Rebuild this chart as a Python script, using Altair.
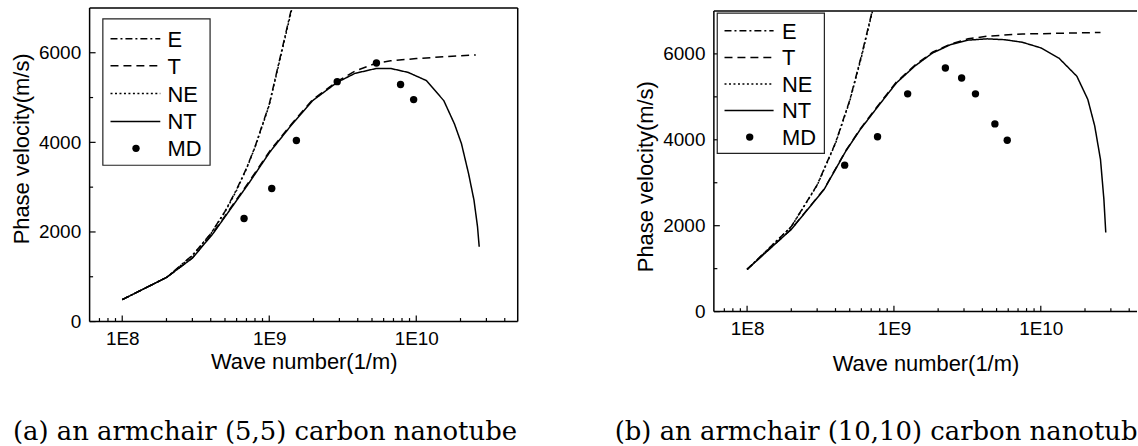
import altair as alt
import pandas as pd

# ---------------- data ----------------
SERIES = ["E", "T", "NE", "NT"]
DASHES = [[7, 3, 2, 3], [8, 5], [2, 2.5], [1, 0]]

# (a) armchair (5,5)
k_E_a = [1e8, 2e8, 3e8, 4e8, 5e8, 6e8, 7e8, 8e8, 9e8, 1e9, 1.42e9]
v_E_a = [490, 985, 1480, 1960, 2460, 2950, 3420, 3900, 4400, 4850, 7000]
k_NE_a = [1e8, 2e8, 3e8, 4e8, 5e8, 6e8, 7e8, 8e8, 9e8, 1e9, 1.43e9]
v_NE_a = [490, 980, 1470, 1955, 2445, 2930, 3410, 3890, 4380, 4830, 7000]
k_T_a = [1e8, 2e8, 3e8, 4.16e8, 5.49e8, 7.24e8, 1.01e9, 1.41e9, 1.97e9, 2.9e9,
         3.83e9, 5.36e9, 6.7e9, 1e10, 1.54e10, 2.54e10]
v_T_a = [489, 985, 1420, 1985, 2545, 3110, 3810, 4400, 4950, 5360,
         5590, 5770, 5820, 5870, 5910, 5950]
k_NT_a = [1e8, 2e8, 3e8, 4.16e8, 5.49e8, 7.24e8, 1.01e9, 1.41e9, 1.97e9, 2.9e9,
          3.83e9, 5.36e9, 6.7e9, 8.83e9, 1.17e10, 1.54e10, 1.82e10, 2.03e10,
          2.27e10, 2.47e10, 2.61e10, 2.68e10]
v_NT_a = [489, 985, 1415, 1970, 2525, 3080, 3785, 4380, 4930, 5340,
          5540, 5650, 5650, 5560, 5380, 4930, 4410, 3970,
          3300, 2710, 2120, 1670]
k_MD_a = [6.74e8, 1.04e9, 1.53e9, 2.9e9, 5.36e9, 7.82e9, 9.6e9]
v_MD_a = [2300, 2970, 4040, 5355, 5770, 5290, 4955]

# (b) armchair (10,10)
k_E_b = [1e8, 2e8, 3e8, 4e8, 5e8, 6e8, 7e8, 7.1e8]
v_E_b = [980, 1980, 2950, 3930, 4920, 5950, 6900, 7000]
k_NE_b = [1e8, 2e8, 3e8, 4e8, 5e8, 6e8, 7e8, 7.15e8]
v_NE_b = [980, 1975, 2940, 3915, 4900, 5920, 6870, 7000]
k_T_b = [1e8, 2e8, 3.34e8, 4.7e8, 5.9e8, 7.8e8, 1.04e9, 1.38e9, 1.83e9, 2.43e9,
         3.2e9, 4.3e9, 7.5e9, 1e10, 2.55e10]
v_T_b = [984, 1920, 2850, 3745, 4255, 4800, 5345, 5730, 6040, 6230,
         6350, 6410, 6465, 6470, 6500]
k_NT_b = [1e8, 2e8, 3.34e8, 4.7e8, 5.9e8, 7.8e8, 1.04e9, 1.38e9, 1.83e9, 2.43e9,
          3.2e9, 4.3e9, 5.7e9, 7.5e9, 1e10, 1.33e10, 1.76e10, 2.09e10,
          2.33e10, 2.55e10, 2.69e10, 2.77e10]
v_NT_b = [984, 1914, 2840, 3735, 4240, 4780, 5325, 5710, 6020, 6215,
          6320, 6350, 6330, 6270, 6140, 5900, 5480, 4940,
          4320, 3540, 2610, 1840]
k_MD_b = [4.62e8, 7.73e8, 1.24e9, 2.24e9, 2.89e9, 3.59e9, 4.87e9, 5.91e9]
v_MD_b = [3410, 4070, 5070, 5670, 5440, 5070, 4370, 3990]

# axis ticks
X_MAJOR = [1e8, 1e9, 1e10]
X_MINOR = [7e7, 8e7, 9e7,
           2e8, 3e8, 4e8, 5e8, 6e8, 7e8, 8e8, 9e8,
           2e9, 3e9, 4e9, 5e9, 6e9, 7e9, 8e9, 9e9,
           2e10, 3e10, 4e10]
Y_MAJOR = [0, 2000, 4000, 6000]
Y_MINOR = [1000, 3000, 5000]
Y_TOP = 7000

CAPTION_A = "(a) an armchair (5,5) carbon nanotube"
CAPTION_B = "(b) an armchair (10,10) carbon nanotube"
X_TITLE = "Wave number(1/m)"
Y_TITLE = "Phase velocity(m/s)"

SANS = "Liberation Sans"
SERIF = "DejaVu Serif"


def lines_df(pairs):
    rows = []
    for name, ks, vs in pairs:
        for k, v in zip(ks, vs):
            rows.append({"k": k, "v": v, "series": name})
    return pd.DataFrame(rows)


def panel(line_df, md_k, md_v, W, H, top, xdom, leg, caption, cap_x, cap_y,
          title_y, x_title_pad, cap_limit=None):
    # 'top' = pixel row (inside the panel) where the value Y_TOP sits (frame top)
    xs = alt.Scale(type="log", domain=xdom, nice=False)
    ymax = Y_TOP * H / (H - top)
    ys = alt.Scale(domain=[0, ymax], nice=False, zero=False)
    one = pd.DataFrame({"a": [0]})
    xax = alt.Axis(values=X_MAJOR, labelExpr="'1E' + round(log(datum.value)/LN10)",
                   ticks=False, domain=False, grid=False, labelPadding=8,
                   titlePadding=x_title_pad, title=X_TITLE, labelFlush=False)
    yax = alt.Axis(values=Y_MAJOR, format="d", ticks=False, domain=False, grid=False,
                   labelPadding=9, titlePadding=5, title=Y_TITLE, titleY=title_y)

    def X(f):
        return alt.X(f, scale=xs, axis=xax, title=X_TITLE)

    def Y(f):
        return alt.Y(f, scale=ys, axis=yax, title=Y_TITLE)

    curves = alt.Chart(line_df).mark_line(color="black", strokeWidth=1.5).encode(
        x=X("k:Q"), y=Y("v:Q"),
        strokeDash=alt.StrokeDash("series:N", scale=alt.Scale(domain=SERIES, range=DASHES),
                                  legend=None),
        detail="series:N",
    )

    md = alt.Chart(pd.DataFrame({"k": md_k, "v": md_v})).mark_point(
        filled=True, shape="circle", size=55, color="black", opacity=1).encode(
        x=X("k:Q"), y=Y("v:Q"))

    xmaj = alt.Chart(pd.DataFrame({"t": X_MAJOR})).mark_rule(color="black", strokeWidth=1.2).encode(
        x=X("t:Q"), y=alt.value(H), y2=alt.value(H - 6))
    xmin = alt.Chart(pd.DataFrame({"t": X_MINOR})).mark_rule(color="black", strokeWidth=1.2).encode(
        x=X("t:Q"), y=alt.value(H), y2=alt.value(H - 3.5))
    ymaj = alt.Chart(pd.DataFrame({"t": Y_MAJOR})).mark_rule(color="black", strokeWidth=1.2).encode(
        y=Y("t:Q"), x=alt.value(0), x2=alt.value(6))
    ymin = alt.Chart(pd.DataFrame({"t": Y_MINOR})).mark_rule(color="black", strokeWidth=1.2).encode(
        y=Y("t:Q"), x=alt.value(0), x2=alt.value(3.5))

    frame = [
        alt.Chart(one).mark_rule(color="black", strokeWidth=1.5).encode(
            x=alt.value(0), x2=alt.value(W), y=alt.value(top)),
        alt.Chart(one).mark_rule(color="black", strokeWidth=1.5).encode(
            x=alt.value(0), x2=alt.value(W), y=alt.value(H)),
        alt.Chart(one).mark_rule(color="black", strokeWidth=1.5).encode(
            x=alt.value(0), y=alt.value(top), y2=alt.value(H)),
    ]
    if leg.get("right_frame", False):
        frame.append(alt.Chart(one).mark_rule(color="black", strokeWidth=1.5).encode(
            x=alt.value(W), y=alt.value(top), y2=alt.value(H)))

    # legend (drawn)
    lg = [alt.Chart(one).mark_rect(fill="white", stroke="#222222", strokeWidth=1.2).encode(
        x=alt.value(leg["bx0"]), x2=alt.value(leg["bx1"]),
        y=alt.value(top + leg["by0"]), y2=alt.value(top + leg["by1"]))]
    names = SERIES + ["MD"]
    for i, name in enumerate(names):
        ry = top + leg["rows"][i]
        if name != "MD":
            lg.append(alt.Chart(one).mark_rule(color="black", strokeWidth=1.5,
                                               strokeDash=DASHES[i]).encode(
                x=alt.value(leg["lx0"]), x2=alt.value(leg["lx1"]), y=alt.value(ry)))
        else:
            lg.append(alt.Chart(one).mark_point(filled=True, shape="circle", size=55,
                                                color="black", opacity=1).encode(
                x=alt.value(leg["dot"]), y=alt.value(ry)))
        lg.append(alt.Chart(one).mark_text(align="left", baseline="middle", font=SANS,
                                           fontSize=22, color="black").encode(
            x=alt.value(leg["tx"]), y=alt.value(ry + 1), text=alt.value(name)))

    cap_kw = dict(align="left", baseline="alphabetic", font=SERIF, fontSize=26, color="black")
    if cap_limit:
        cap_kw["limit"] = cap_limit
        cap_kw["ellipsis"] = "\u200b"
    cap = alt.Chart(one).mark_text(**cap_kw).encode(
        x=alt.value(cap_x), y=alt.value(cap_y), text=alt.value(caption))

    return alt.layer(curves, md, xmaj, xmin, ymaj, ymin, *frame, *lg, cap).properties(
        width=W, height=H)


df_a = lines_df([("E", k_E_a, v_E_a), ("NE", k_NE_a, v_NE_a),
                 ("T", k_T_a, v_T_a), ("NT", k_NT_a, v_NT_a)])
df_b = lines_df([("E", k_E_b, v_E_b), ("NE", k_NE_b, v_NE_b),
                 ("T", k_T_b, v_T_b), ("NT", k_NT_b, v_NT_b)])

leg_a = dict(bx0=13.3, bx1=121, by0=11, by1=158, lx0=21, lx1=71, tx=78.3, dot=46.6,
             rows=[31, 58, 86, 114, 141], right_frame=True)
leg_b = dict(bx0=3.4, bx1=111, by0=2.3, by1=143, lx0=10.7, lx1=60, tx=68.4, dot=36,
             rows=[20, 46.7, 73.3, 100, 126.7])

# both panels share the same origin row (y = 7); panel (b) frame starts 3 px lower
left = panel(df_a, k_MD_a, v_MD_a, 430, 315, 0, [6.0e7, 4.9e10], leg_a, CAPTION_A,
             -77, 434, 141, 3)
right = panel(df_b, k_MD_b, v_MD_b, 425, 305, 3, [5.94e7, 4.52e10], leg_b, CAPTION_B,
              -99.6, 434, 169, 15, cap_limit=530)

chart = alt.hconcat(left, right, spacing=96).properties(
    padding={"left": 10, "top": 4, "right": 0, "bottom": 0}
).configure_view(strokeWidth=0).configure_axis(
    labelFont=SANS, labelFontSize=19, labelColor="black",
    titleFont=SANS, titleFontSize=22, titleFontWeight="normal", titleColor="black"
)

chart.save("out.html", embed_options={"renderer": "svg", "actions": False})
